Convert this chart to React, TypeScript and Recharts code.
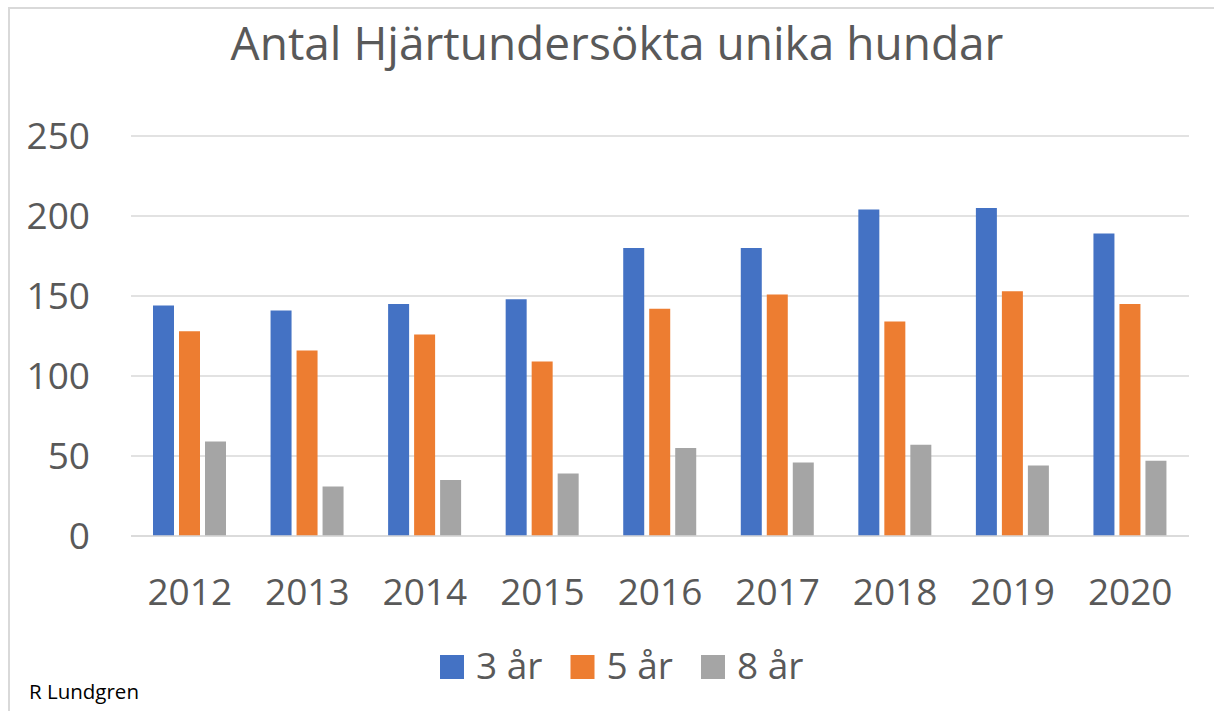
import React from 'react';
import { BarChart, Bar, XAxis, YAxis, CartesianGrid } from 'recharts';

const years = ['2012', '2013', '2014', '2015', '2016', '2017', '2018', '2019', '2020'];
const values3 = [144, 141, 145, 148, 180, 180, 204, 205, 189];
const values5 = [128, 116, 126, 109, 142, 151, 134, 153, 145];
const values8 = [59, 31, 35, 39, 55, 46, 57, 44, 47];
const yTicks = [0, 50, 100, 150, 200, 250];
const seriesNames = ['3 år', '5 år', '8 år'];
const seriesKeys = ['a3', 'a5', 'a8'];
const seriesColors = ['#4472C4', '#ED7D31', '#A5A5A5'];
const title = 'Antal Hjärtundersökta unika hundar';
const footer = 'R Lundgren';

const data = years.map((y, i) => ({ year: y, a3: values3[i], a5: values5[i], a8: values8[i] }));

const FONT = '"Open Sans", sans-serif';
const TEXT = '#595959';

export default function App() {
  return (
    <div style={{ position: 'absolute', left: 0, top: 0, width: 1214, height: 711, background: '#fff', fontFamily: FONT, overflow: 'hidden' }}>
      <div style={{ position: 'absolute', left: 8, top: 7, width: 1214, height: 720, borderLeft: '2px solid #d9d9d9', borderTop: '2px solid #d9d9d9', boxSizing: 'border-box' }} />
      <BarChart
        width={1214}
        height={711}
        data={data}
        margin={{ top: 136, right: 25, bottom: 145, left: 31 }}
        barSize={21}
        barGap={5}
        style={{ position: 'absolute', left: 0, top: 0 }}
      >
        <CartesianGrid vertical={false} stroke="#d9d9d9" strokeWidth={1.5} />
        <XAxis
          dataKey="year"
          height={30}
          axisLine={{ stroke: '#d9d9d9', strokeWidth: 1.5 }}
          tickLine={false}
          tickSize={0}
          tickMargin={43}
          tick={{ fill: TEXT, fontSize: 37, fontFamily: FONT }}
          interval={0}
        />
        <YAxis
          width={100}
          domain={[0, 250]}
          ticks={yTicks}
          axisLine={false}
          tickLine={false}
          tickSize={0}
          tickMargin={41}
          tick={{ fill: TEXT, fontSize: 37, fontFamily: FONT }}
        />
        {seriesKeys.map((k, i) => (
          <Bar key={k} dataKey={k} name={seriesNames[i]} fill={seriesColors[i]} isAnimationActive={false} />
        ))}
      </BarChart>
      <svg width={1214} height={711} style={{ position: 'absolute', left: 0, top: 0, pointerEvents: 'none' }}>
        <text x={617} y={60} textAnchor="middle" fill={TEXT} fontSize={46} fontFamily={FONT}>{title}</text>
        {seriesNames.map((n, i) => (
          <g key={n}>
            <rect x={440 + i * 130.5} y={655} width={24} height={24} fill={seriesColors[i]} />
            <text x={476 + i * 130.5} y={679} fill={TEXT} fontSize={37} fontFamily={FONT}>{n}</text>
          </g>
        ))}
        <text x={29} y={699} fill="#000" fontSize={20.5} fontFamily={FONT}>{footer}</text>
      </svg>
    </div>
  );
}
